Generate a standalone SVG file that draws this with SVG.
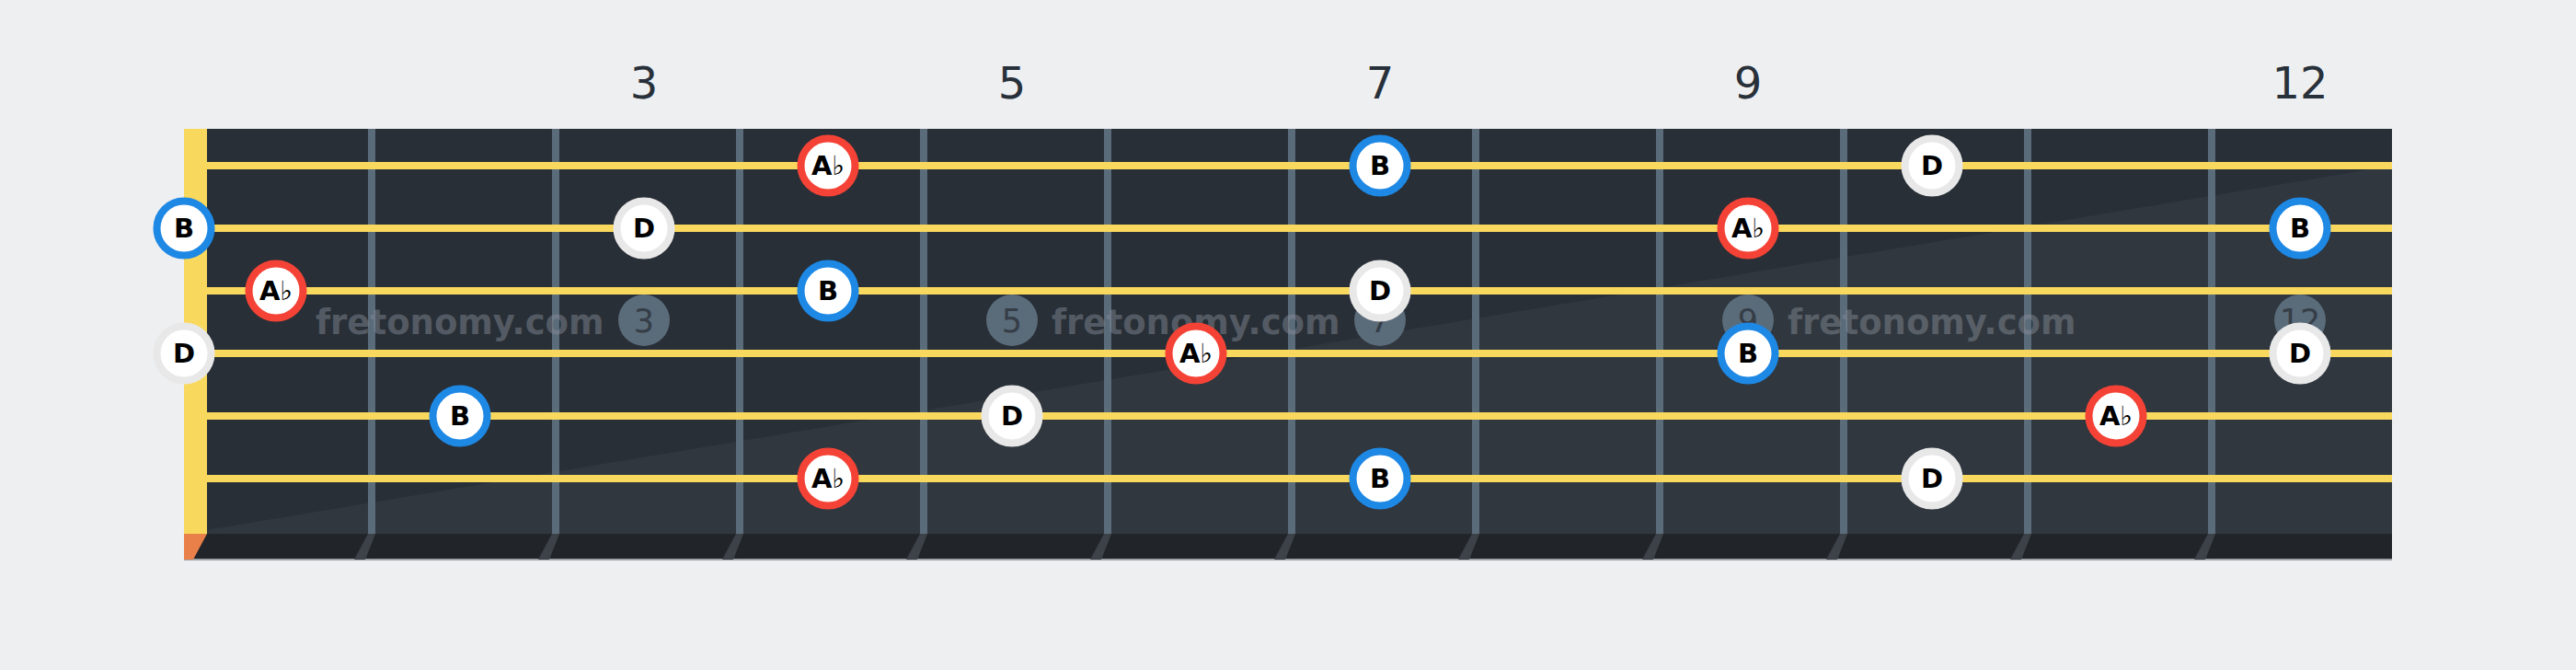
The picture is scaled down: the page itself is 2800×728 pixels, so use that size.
<svg xmlns="http://www.w3.org/2000/svg" width="2800" height="728" viewBox="0 0 2800 728">
<style>
.num{font-family:"DejaVu Sans","Liberation Sans",sans-serif;font-size:48px;fill:#28303a;text-anchor:middle}
.str{fill:#f9d85e}
.fret{fill:#5a6b7a}
.fretb{fill:#3c4248}
.mk{fill:#5a6b7a}
.mkt{font-family:"DejaVu Sans","Liberation Sans",sans-serif;font-size:35px;fill:#353d47;text-anchor:middle}
.wm{font-family:"DejaVu Sans","Liberation Sans",sans-serif;font-weight:bold;font-size:37px;fill:#8a9099;opacity:0.45}
.n circle{fill:#ffffff;stroke-width:8}
.nB circle{stroke:#1e88e5}
.nA circle{stroke:#f44336}
.nD circle{stroke:#e8e8e8}
.n text{font-family:"DejaVu Sans","Liberation Sans",sans-serif;font-weight:bold;font-size:29px;fill:#000000;text-anchor:middle}
.fl{font-weight:normal}
</style>
<rect width="2800" height="728" fill="#eeeff1"/>
<g id="fretboard">
<rect x="200" y="140" width="2400" height="440" fill="#282f37"/>
<polygon points="225,575.8 2600,180 2600,580 225,580" fill="#30373f"/>
<rect x="200" y="580" width="2400" height="28" fill="#212529"/>
<rect x="200" y="607" width="2400" height="2" fill="#9ea3a8"/>
<rect x="200" y="140" width="25" height="440" fill="#f9d85e"/>
<polygon points="200,580 225,580 210,608 200,608" fill="#e9804a"/>
</g>
<g id="frets">
<rect class="fret" x="400" y="140" width="8" height="440"/>
<rect class="fret" x="600" y="140" width="8" height="440"/>
<rect class="fret" x="800" y="140" width="8" height="440"/>
<rect class="fret" x="1000" y="140" width="8" height="440"/>
<rect class="fret" x="1200" y="140" width="8" height="440"/>
<rect class="fret" x="1400" y="140" width="8" height="440"/>
<rect class="fret" x="1600" y="140" width="8" height="440"/>
<rect class="fret" x="1800" y="140" width="8" height="440"/>
<rect class="fret" x="2000" y="140" width="8" height="440"/>
<rect class="fret" x="2200" y="140" width="8" height="440"/>
<rect class="fret" x="2400" y="140" width="8" height="440"/>
<polygon class="fretb" points="400,580 408,580 397,608 385,608"/>
<polygon class="fretb" points="600,580 608,580 597,608 585,608"/>
<polygon class="fretb" points="800,580 808,580 797,608 785,608"/>
<polygon class="fretb" points="1000,580 1008,580 997,608 985,608"/>
<polygon class="fretb" points="1200,580 1208,580 1197,608 1185,608"/>
<polygon class="fretb" points="1400,580 1408,580 1397,608 1385,608"/>
<polygon class="fretb" points="1600,580 1608,580 1597,608 1585,608"/>
<polygon class="fretb" points="1800,580 1808,580 1797,608 1785,608"/>
<polygon class="fretb" points="2000,580 2008,580 1997,608 1985,608"/>
<polygon class="fretb" points="2200,580 2208,580 2197,608 2185,608"/>
<polygon class="fretb" points="2400,580 2408,580 2397,608 2385,608"/>
</g>
<g id="watermarks">
<text class="wm" x="343" y="363">fretonomy.com</text>
<text class="wm" x="1143" y="363">fretonomy.com</text>
<text class="wm" x="1943" y="363">fretonomy.com</text>
</g>
<g id="markers">
<circle class="mk" cx="700" cy="348" r="28"/><text class="mkt" x="700" y="361">3</text>
<circle class="mk" cx="1100" cy="348" r="28"/><text class="mkt" x="1100" y="361">5</text>
<circle class="mk" cx="1500" cy="348" r="28"/><text class="mkt" x="1500" y="361">7</text>
<circle class="mk" cx="1900" cy="348" r="28"/><text class="mkt" x="1900" y="361">9</text>
<circle class="mk" cx="2500" cy="348" r="28"/><text class="mkt" x="2500" y="361">12</text>
</g>
<g id="strings">
<rect class="str" x="225" y="176" width="2375" height="8"/>
<rect class="str" x="225" y="244" width="2375" height="8"/>
<rect class="str" x="225" y="312" width="2375" height="8"/>
<rect class="str" x="225" y="380" width="2375" height="8"/>
<rect class="str" x="225" y="448" width="2375" height="8"/>
<rect class="str" x="225" y="516" width="2375" height="8"/>
</g>
<g id="fret-numbers">
<text class="num" x="700" y="107">3</text>
<text class="num" x="1100" y="107">5</text>
<text class="num" x="1500" y="107">7</text>
<text class="num" x="1900" y="107">9</text>
<text class="num" x="2500" y="107">12</text>
</g>
<g id="connectors"></g>
<g id="notes">
<g id="s1f4" class="n nA"><circle cx="900" cy="180" r="29.5"/><text x="900" y="190">A<tspan class="fl">♭</tspan></text></g>
<g id="s1f7" class="n nB"><circle cx="1500" cy="180" r="29.5"/><text x="1500" y="190">B</text></g>
<g id="s1f10" class="n nD"><circle cx="2100" cy="180" r="29.5"/><text x="2100" y="190">D</text></g>
<g id="s2f0" class="n nB"><circle cx="200" cy="248" r="29.5"/><text x="200" y="258">B</text></g>
<g id="s2f3" class="n nD"><circle cx="700" cy="248" r="29.5"/><text x="700" y="258">D</text></g>
<g id="s2f9" class="n nA"><circle cx="1900" cy="248" r="29.5"/><text x="1900" y="258">A<tspan class="fl">♭</tspan></text></g>
<g id="s2f12" class="n nB"><circle cx="2500" cy="248" r="29.5"/><text x="2500" y="258">B</text></g>
<g id="s3f1" class="n nA"><circle cx="300" cy="316" r="29.5"/><text x="300" y="326">A<tspan class="fl">♭</tspan></text></g>
<g id="s3f4" class="n nB"><circle cx="900" cy="316" r="29.5"/><text x="900" y="326">B</text></g>
<g id="s3f7" class="n nD"><circle cx="1500" cy="316" r="29.5"/><text x="1500" y="326">D</text></g>
<g id="s4f0" class="n nD"><circle cx="200" cy="384" r="29.5"/><text x="200" y="394">D</text></g>
<g id="s4f6" class="n nA"><circle cx="1300" cy="384" r="29.5"/><text x="1300" y="394">A<tspan class="fl">♭</tspan></text></g>
<g id="s4f9" class="n nB"><circle cx="1900" cy="384" r="29.5"/><text x="1900" y="394">B</text></g>
<g id="s4f12" class="n nD"><circle cx="2500" cy="384" r="29.5"/><text x="2500" y="394">D</text></g>
<g id="s5f2" class="n nB"><circle cx="500" cy="452" r="29.5"/><text x="500" y="462">B</text></g>
<g id="s5f5" class="n nD"><circle cx="1100" cy="452" r="29.5"/><text x="1100" y="462">D</text></g>
<g id="s5f11" class="n nA"><circle cx="2300" cy="452" r="29.5"/><text x="2300" y="462">A<tspan class="fl">♭</tspan></text></g>
<g id="s6f4" class="n nA"><circle cx="900" cy="520" r="29.5"/><text x="900" y="530">A<tspan class="fl">♭</tspan></text></g>
<g id="s6f7" class="n nB"><circle cx="1500" cy="520" r="29.5"/><text x="1500" y="530">B</text></g>
<g id="s6f10" class="n nD"><circle cx="2100" cy="520" r="29.5"/><text x="2100" y="530">D</text></g>
</g>
</svg>
